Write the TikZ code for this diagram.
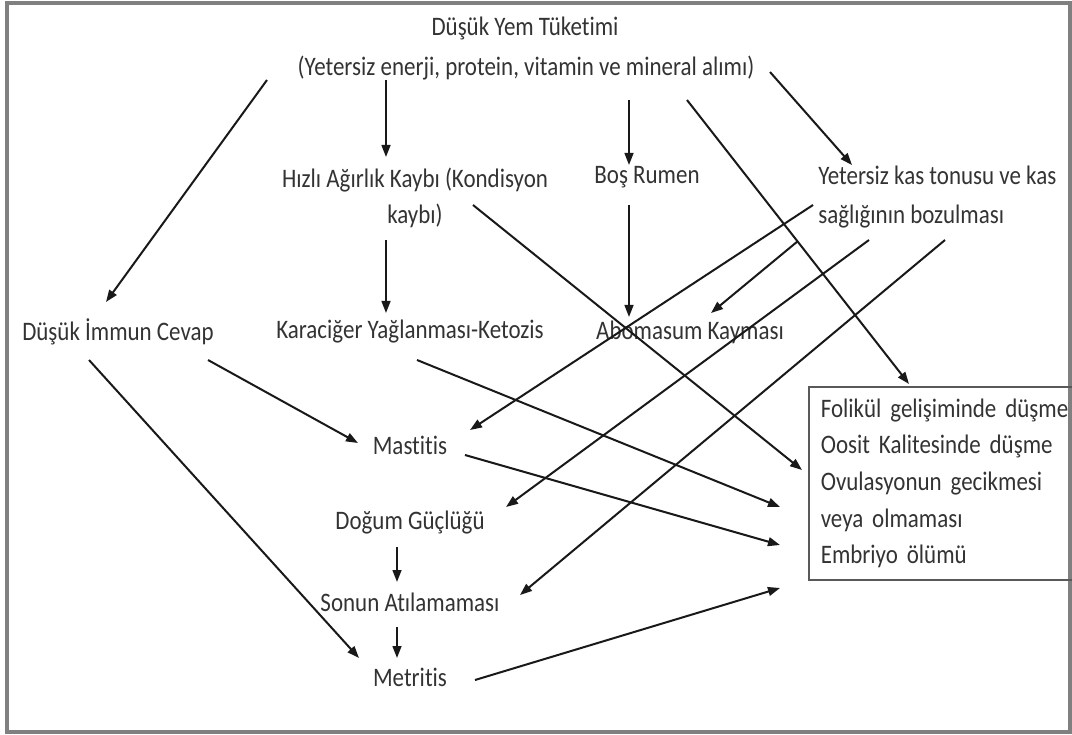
\documentclass[tikz,border=0pt]{standalone}
\usepackage{fontspec}
\setmainfont{Carlito}[Ligatures=CommonOff, FakeStretch=0.86]
\usetikzlibrary{arrows.meta}

\begin{document}
\begin{tikzpicture}[x=0.025cm, y=-0.025cm,
  lbl/.style={inner sep=0pt, text=black!80, font=\fontsize{19}{26}\selectfont},
  ok/.style={line width=0.5mm, black!90, -{Triangle[length=3mm,width=2.2mm]}}]
\useasboundingbox (0,0) rectangle (1072,735);
\draw [gray, line width=0.8mm] (7,3) rectangle (1070,732);

\node [lbl] (yem) at (525,28) {Düşük Yem Tüketimi};
\node [lbl] (yemalt) at (526,68) {(Yetersiz enerji, protein, vitamin ve mineral alımı)};
\node [lbl, align=center] (hizli) at (415,198) {Hızlı Ağırlık Kaybı (Kondisyon\\kaybı)};
\node [lbl] (bos) at (647,177) {Boş Rumen};
\node [lbl, align=left, anchor=west] (kas) at (818,197) {Yetersiz kas tonusu ve kas\\[2.4pt]sağlığının bozulması};
\node [lbl] (imm) at (118,332) {Düşük İmmun Cevap};
\node [lbl] (kc) at (410,332) {Karaciğer Yağlanması-Ketozis};
\node [lbl] (abo) at (690,332) {Abomasum Kayması};
\node [lbl] (mas) at (410,445) {Mastitis};
\node [lbl] (dog) at (410,523) {Doğum Güçlüğü};
\node [lbl] (son) at (410,602) {Sonun Atılamaması};
\node [lbl] (met) at (410,677) {Metritis};
\node [lbl, draw=black!65, line width=0.4mm, anchor=north west, align=left, text width=6.3cm, inner xsep=0.3cm, minimum height=4.825cm] (etki) at (808,386) {Folikül gelişiminde düşme\\Oosit Kalitesinde düşme\\Ovulasyonun gecikmesi\\veya olmaması\\Embriyo ölümü};

% besin eksikligi
\draw [ok] ([shift={(-259,12)}]yemalt.center) -- ([shift={(-12,-30)}]imm.center);
\draw [ok] ([shift={(-140,12)}]yemalt.center) -- ([shift={(-29,-41)}]hizli.center);
\draw [ok] ([shift={(103,32)}]yemalt.center) -- ([shift={(-18,-12)}]bos.center);
\draw [ok] ([shift={(161,32)}]yemalt.center) -- ([shift={(101,-2)}]etki.north west);
\draw [ok] ([shift={(244,4)}]yemalt.center) -- ([shift={(34,-32)}]kas.west);

\draw [ok] ([shift={(-29,42)}]hizli.center) -- ([shift={(-24,-19)}]kc.center);
\draw [ok] ([shift={(58,7)}]hizli.center) -- ([shift={(-6,84)}]etki.north west);
\draw [ok] ([shift={(-18,28)}]bos.center) -- ([shift={(-61,-15)}]abo.center);

% kas tonusu
\draw [ok] ([shift={(-5,8)}]kas.west) -- ([shift={(60,-15)}]mas.center);
\draw [ok] ([shift={(-20,44)}]kas.west) -- ([shift={(21,-19)}]abo.center);
\draw [ok] ([shift={(51,43)}]kas.west) -- ([shift={(96,-16)}]dog.center);
\draw [ok] ([shift={(127,43)}]kas.west) -- ([shift={(110,-7)}]son.center);

\draw [ok] ([shift={(90,28)}]imm.center) -- ([shift={(-52,-2)}]mas.center);
\draw [ok] ([shift={(-29,28)}]imm.center) -- ([shift={(-51,-19)}]met.center);
\draw [ok] ([shift={(7,28)}]kc.center) -- ([shift={(-28,121)}]etki.north west);
\draw [ok] ([shift={(55,10)}]mas.center) -- ([shift={(-28,159)}]etki.north west);
\draw [ok] ([shift={(-13,24)}]dog.center) -- ([shift={(-13,-20)}]son.center);
\draw [ok] ([shift={(-13,25)}]son.center) -- ([shift={(-13,-19)}]met.center);
\draw [ok] ([shift={(65,3)}]met.center) -- ([shift={(-28,202)}]etki.north west);
\end{tikzpicture}
\end{document}
